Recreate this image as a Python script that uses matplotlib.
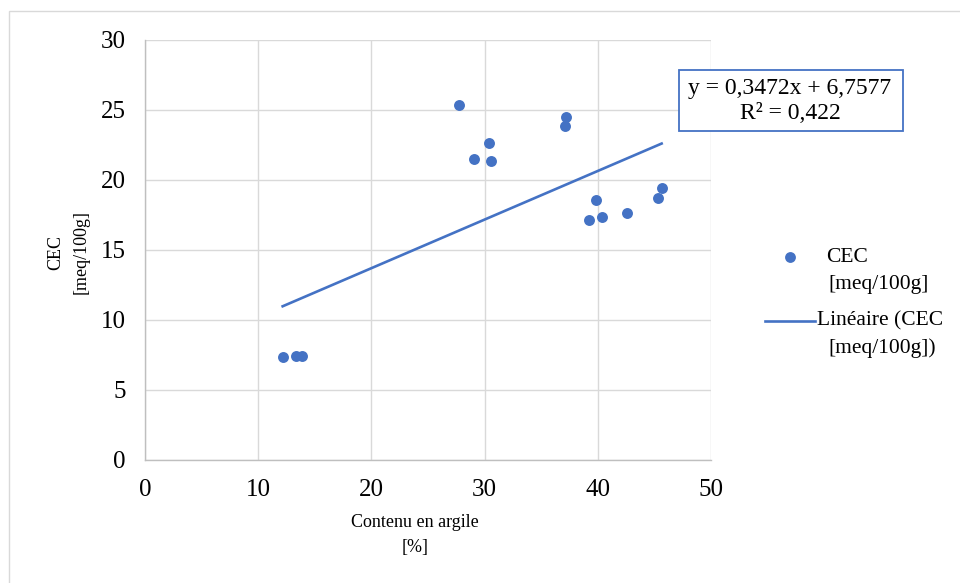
import matplotlib
matplotlib.use("Agg")
import matplotlib.pyplot as plt
import numpy as np
from matplotlib.patches import Rectangle
from matplotlib.lines import Line2D

plt.rcParams['font.family'] = ['Liberation Serif', 'DejaVu Serif']

clay = [12.16, 13.34, 13.84, 27.77, 29.06, 30.39, 30.6, 37.1, 37.16,
        39.2, 39.84, 40.4, 42.6, 45.32, 45.64]
cec = [7.33, 7.45, 7.45, 25.36, 21.52, 22.66, 21.36, 23.86, 24.48,
       17.14, 18.57, 17.33, 17.62, 18.74, 19.45]
slope = 0.3472
intercept = 6.7577
eq_text = "y = 0,3472x + 6,7577\nR² = 0,422"
x_ticks = [0, 10, 20, 30, 40, 50]
y_ticks = [0, 5, 10, 15, 20, 25, 30]

W, H = 960, 583
fig = plt.figure(figsize=(W / 100, H / 100), dpi=100)

def fx(px):
    return px / W

def fy(py):
    return 1 - py / H

ax = fig.add_axes([fx(145), fy(460), fx(711) - fx(145), fy(40) - fy(460)])
blue = '#4472C4'

ax.scatter(clay, cec, s=62, color=blue, zorder=3, linewidths=0)
xl = np.array([min(clay), max(clay)])
ax.plot(xl, slope * xl + intercept, color=blue, lw=1.9, zorder=2)

ax.set_xlim(0, 50)
ax.set_ylim(0, 30)
ax.set_xticks(x_ticks)
ax.set_yticks(y_ticks)
ax.grid(True, color='#d9d9d9', lw=1.0)
ax.set_axisbelow(True)
for s in ['top', 'right']:
    ax.spines[s].set_visible(False)
for s in ['left', 'bottom']:
    ax.spines[s].set_color('#bfbfbf')
    ax.spines[s].set_linewidth(1.0)
ax.tick_params(length=0, labelsize=18, colors='black')
ax.tick_params(axis='x', pad=14)
ax.tick_params(axis='y', pad=14)

# axis titles
fig.text(fx(415), fy(535), "Contenu en argile\n[%]", ha='center', va='center',
         fontsize=13, linespacing=1.6)
fig.text(fx(68), fy(252), "CEC\n[meq/100g]", ha='center', va='center',
         rotation=90, fontsize=13, linespacing=1.65)

# equation box
fig.add_artist(Rectangle((fx(679), fy(131)), fx(903) - fx(679), fy(70) - fy(131),
                         transform=fig.transFigure, fill=True, facecolor='white',
                         edgecolor=blue, lw=1.3, zorder=5))
fig.text(fx(790), fy(101), eq_text, ha='center', va='center', fontsize=17,
         linespacing=1.2, zorder=6)

# legend (manual)
fig.add_artist(Line2D([fx(790)], [fy(257)], marker='o', markersize=7.8, color=blue,
                      markeredgewidth=0, transform=fig.transFigure))
fig.text(fx(826), fy(257), "CEC", ha='left', va='center', fontsize=15.5)
fig.text(fx(828), fy(284), "[meq/100g]", ha='left', va='center', fontsize=15.5)
fig.add_artist(Line2D([fx(765), fx(815)], [fy(321), fy(321)], color=blue, lw=1.9,
                      transform=fig.transFigure))
fig.text(fx(817), fy(321), "Linéaire (CEC", ha='left', va='center', fontsize=15.5)
fig.text(fx(828), fy(348), "[meq/100g])", ha='left', va='center', fontsize=15.5)

# outer chart frame
fig.add_artist(Rectangle((fx(9), fy(H + 5)), fx(W + 5) - fx(9), fy(11) - fy(H + 5),
                         transform=fig.transFigure, fill=False,
                         edgecolor='#d9d9d9', lw=1.0))

fig.savefig('out.png', dpi=100)
